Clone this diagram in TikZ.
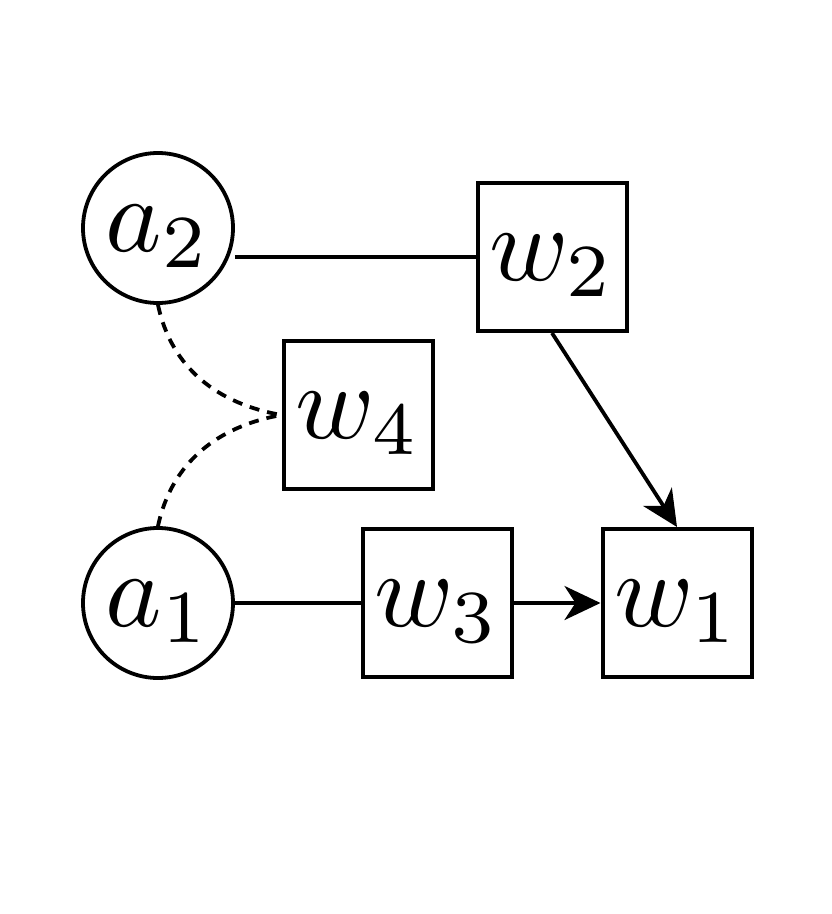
\documentclass[tikz,border=0pt]{standalone}
\usepackage{fix-cm}
\usepackage{graphicx}
\usetikzlibrary{arrows.meta}
\newcommand{\lbl}[1]{\scalebox{10.7}{\fontsize{10}{12}\selectfont$#1$}}
\begin{document}
\begin{tikzpicture}[x=1pt,y=-1pt,
  every node/.style={inner sep=0pt, text depth=0pt},
  agent/.style={draw, circle, line width=3.8pt, minimum size=150pt},
  wbox/.style={draw, rectangle, line width=4pt, minimum width=149pt, minimum height=148pt},
  conn/.style={line width=3.8pt},
  dconn/.style={line width=3.8pt, dash pattern=on 10pt off 8pt},
  arr/.style={conn, -{Stealth[length=36pt,width=34pt,inset=11pt]}}]
\useasboundingbox (0,0) rectangle (831,914);
\node[agent] (a2) at (158,228) {\lbl{a_2}};
\node[agent] (a1) at (158,603) {\lbl{a_1}};
\node[wbox] (w2) at (552,257) {\lbl{w_2}};
\node[wbox] (w4) at (358,415) {\lbl{w_4}};
\node[wbox] (w3) at (437,603) {\lbl{w_3}};
\node[wbox] (w1) at (677,603) {\lbl{w_1}};
\draw[conn] (a2.east |- w2.west) -- (w2.west);
\draw[conn] (a1.east) -- (w3.west);
\draw[arr] (w3.east) -- (w1.west);
\draw[arr] (w2.south) -- (w1.north);
\draw[dconn] (a2.south) to[out=-78,in=170] (w4.west);
\draw[dconn] (a1.north) to[out=78,in=190] (w4.west);
\end{tikzpicture}
\end{document}
